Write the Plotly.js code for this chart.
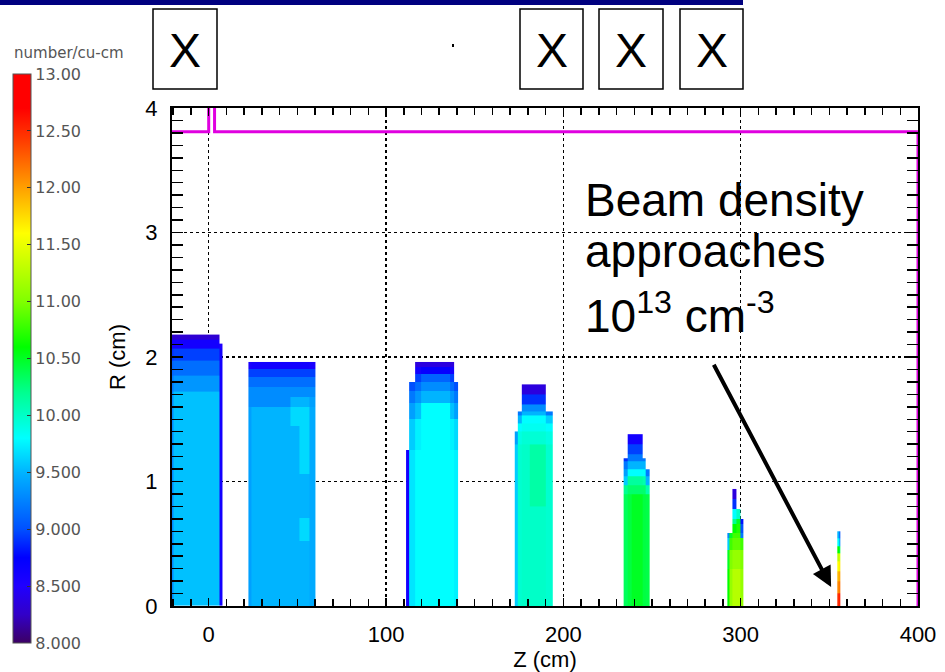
<!DOCTYPE html>
<html>
<head>
<meta charset="utf-8">
<script src="https://cdn.plot.ly/plotly-3.0.1.min.js"></script>
<style>html,body{margin:0;padding:0;background:#fff;}#chart{width:945px;height:672px;}</style>
</head>
<body>
<div id="chart"></div>
<script>
// ---------- DATA (log10 beam density, number/cu-cm) ----------
// Bunch 1
const b1Z = [-21, -19.8, 5.8, 7.6];
const b1R = [0, 1.72, 1.85, 1.97, 2.07, 2.11, 2.14, 2.18];
const b1D = [
  [9.3, 9.55, 8.6],
  [9.2, 9.35, 8.6],
  [9.1, 9.15, 8.6],
  [8.9, 8.95, 8.6],
  [8.6, 8.6, 8.5],
  [8.6, 8.6, null],
  [8.3, 8.3, null]
];
// Bunch 2
const b2Z = [22.4, 24.3, 46, 51, 57, 60.4];
const b2R = [0, 0.52, 0.71, 1.06, 1.45, 1.6, 1.68, 1.76, 1.84, 1.90, 1.96];
const b2D = [
  [9.4, 9.5, 9.5, 9.5, 9.45],
  [9.4, 9.5, 9.5, 9.65, 9.45],
  [9.4, 9.5, 9.5, 9.5, 9.45],
  [9.4, 9.5, 9.5, 9.65, 9.45],
  [9.4, 9.5, 9.65, 9.65, 9.45],
  [9.3, 9.3, 9.5, 9.5, 9.4],
  [9.3, 9.3, 9.3, 9.3, 9.3],
  [9.15, 9.15, 9.15, 9.15, 9.15],
  [8.95, 8.95, 8.95, 8.95, 8.95],
  [8.55, 8.6, 8.6, 8.6, 8.55]
];
// Bunch 3
const b3Z = [111.3, 113.0, 116.5, 120, 136, 138.5, 140.8];
const b3R = [0, 1.25, 1.5, 1.63, 1.73, 1.80, 1.86, 1.92, 1.96];
const b3D = [
  [8.6, 9.7, 9.8, 9.8, 9.8, 9.75],
  [null, 9.6, 9.75, 9.8, 9.75, 9.65],
  [null, 9.4, 9.55, 9.8, 9.55, 9.4],
  [null, 9.2, 9.35, 9.5, 9.35, 9.2],
  [null, 9.0, 9.15, 9.3, 9.15, 9.0],
  [null, null, 8.95, 9.1, 8.95, null],
  [null, null, 8.6, 8.7, 8.6, null],
  [null, null, 8.35, 8.35, 8.35, null]
];
// Bunch 4
const b4Z = [172.6, 174.1, 176.6, 181, 189.8, 194];
const b4R = [0, 0.8, 1.3, 1.4, 1.47, 1.53, 1.56, 1.62, 1.70, 1.78];
const b4D = [
  [9.6, 9.97, 10.0, 10.0, 9.97],
  [9.6, 9.97, 10.0, 10.12, 9.97],
  [9.4, 9.9, 9.95, 9.95, 9.9],
  [null, 9.8, 9.85, 9.85, 9.8],
  [null, 9.5, 9.8, 9.8, 9.6],
  [null, 9.2, 9.5, 9.5, 9.2],
  [null, null, 9.3, 9.3, null],
  [null, null, 8.9, 8.9, null],
  [null, null, 8.35, 8.35, null]
];
// Bunch 5
const b5Z = [234, 236.5, 238.5, 244.6, 246.5, 248.5];
const b5R = [0, 0.9, 0.97, 1.04, 1.10, 1.16, 1.19, 1.22, 1.30, 1.38];
const b5D = [
  [10.35, 10.42, 10.5, 10.42, 10.4],
  [10.2, 10.3, 10.3, 10.3, 10.1],
  [9.6, 10.15, 10.15, 10.1, 9.5],
  [9.4, 9.8, 9.8, 9.8, 9.2],
  [9.2, 9.5, 9.5, 9.5, null],
  [8.9, 9.2, 9.2, 9.2, null],
  [null, 9.2, 9.2, null, null],
  [null, 8.95, 8.95, null, null],
  [null, 8.6, 8.6, null, null]
];
// Bunch 6
const b6Z = [292.5, 293.8, 295.4, 297.3, 299.8, 301.7];
const b6R = [0, 0.3, 0.45, 0.55, 0.59, 0.66, 0.70, 0.78, 0.86, 0.94];
const b6D = [
  [10.6, 11.1, 11.25, 11.25, 11.1],
  [10.5, 11.0, 11.1, 11.1, 11.0],
  [9.6, 10.8, 10.9, 10.9, 10.8],
  [9.3, 10.5, 10.8, 10.8, 9.2],
  [null, null, 10.6, 10.7, 9.0],
  [null, null, 10.2, 10.5, 8.8],
  [null, null, 9.8, 10.0, null],
  [null, null, 8.9, null, null],
  [null, null, 8.35, null, null]
];
// Bunch 7
const b7Z = [354.5, 355.4, 356.3];
const b7R = [0, 0.1, 0.2, 0.28, 0.36, 0.42, 0.48, 0.54, 0.60];
const b7D = [
  [12.5, 12.6],
  [12.1, 12.2],
  [11.9, 12.0],
  [11.6, 11.7],
  [11.3, 11.4],
  [10.6, 10.4],
  [9.8, 9.3],
  [9.5, 9.0]
];
// Wall (magenta boundary)
const wallZ = [-20.7, 0, 0, null, 3.3, 3.3, 400, 400];
const wallR = [3.81, 3.81, 4.0, null, 4.0, 3.81, 3.81, 0];

// Axis / colorbar labels
const xTickVals = [0, 100, 200, 300, 400];
const yTickVals = [0, 1, 2, 3, 4];
const cbTickVals = [8, 8.5, 9, 9.5, 10, 10.5, 11, 11.5, 12, 12.5, 13];
const cbTickText = ['8.000', '8.500', '9.000', '9.500', '10.00', '10.50', '11.00', '11.50', '12.00', '12.50', '13.00'];

// ---------- LAYOUT HELPERS ----------
const L = 172, R = 27, T = 108, B = 66, W = 945, H = 672;
const PW = W - L - R, PH = H - T - B;
const px = v => (v - L) / PW;
const py = v => (H - B - v) / PH;

const colorscale = [
  [0.00, '#3c0064'], [0.05, '#3200c8'], [0.10, '#2000ff'], [0.15, '#0000ff'],
  [0.20, '#0050ff'], [0.30, '#00b4ff'], [0.36, '#00ffff'], [0.44, '#00ff90'],
  [0.52, '#00ff00'], [0.60, '#80ff00'], [0.72, '#ffff00'], [0.80, '#ffa000'],
  [0.88, '#ff4000'], [0.94, '#ff0000'], [1.00, '#ff0000']
];

const bunches = [[b1Z, b1R, b1D], [b2Z, b2R, b2D], [b3Z, b3R, b3D], [b4Z, b4R, b4D], [b5Z, b5R, b5D], [b6Z, b6R, b6D], [b7Z, b7R, b7D]];
const traces = bunches.map(b => ({
  type: 'heatmap', x: b[0], y: b[1], z: b[2], coloraxis: 'coloraxis',
  zsmooth: false, hoverinfo: 'skip'
}));
traces.push({
  type: 'scatter', mode: 'lines', x: wallZ, y: wallR, connectgaps: false,
  line: {color: '#e000e0', width: 3}, hoverinfo: 'skip', showlegend: false
});

const boxXs = [[153, 217], [520, 583], [599, 663], [680, 743]];
const shapes = [
  {type: 'rect', xref: 'paper', yref: 'paper', x0: px(0), x1: px(743), y0: py(0), y1: py(5),
   fillcolor: '#000080', line: {width: 0}}
];
const annotations = [];
boxXs.forEach(b => {
  shapes.push({type: 'rect', xref: 'paper', yref: 'paper', x0: px(b[0]), x1: px(b[1]), y0: py(89), y1: py(9),
    line: {color: '#000', width: 1.5}, fillcolor: 'rgba(0,0,0,0)'});
  annotations.push({xref: 'paper', yref: 'paper', x: px((b[0] + b[1]) / 2), y: py(50), text: 'X',
    showarrow: false, xanchor: 'center', yanchor: 'middle', font: {size: 48, color: '#000'}});
});
shapes.push({type: 'rect', xref: 'paper', yref: 'paper', x0: px(452), x1: px(454), y0: py(47), y1: py(44),
  fillcolor: '#000', line: {width: 0}});

// colorbar title
annotations.push({xref: 'paper', yref: 'paper', x: px(12), y: py(53), xanchor: 'left', yanchor: 'middle',
  text: 'number/cu-cm', showarrow: false, font: {family: 'DejaVu Sans', size: 15, color: '#555'}});

const tf = {family: 'Liberation Sans, Arial', size: 46, color: '#000'};
annotations.push({xref: 'paper', yref: 'paper', x: px(583), y: py(200), xanchor: 'left', yanchor: 'middle',
  text: 'Beam density', showarrow: false, font: tf});
annotations.push({xref: 'paper', yref: 'paper', x: px(583), y: py(251), xanchor: 'left', yanchor: 'middle',
  text: 'approaches', showarrow: false, font: tf});
annotations.push({xref: 'paper', yref: 'paper', x: px(583), y: py(313), xanchor: 'left', yanchor: 'middle',
  text: '10<sup>13</sup> cm<sup>-3</sup>', showarrow: false, font: tf});
annotations.push({x: 351, y: 0.153, ax: 284.4, ay: 1.95, axref: 'x', ayref: 'y', xref: 'x', yref: 'y',
  text: '', showarrow: true, arrowhead: 2, arrowsize: 1, arrowwidth: 4, arrowcolor: '#000'});

const axFont = {family: 'Liberation Sans, Arial', size: 22, color: '#000'};
const layout = {
  width: W, height: H,
  margin: {l: L, r: R, t: T, b: B, pad: 0},
  paper_bgcolor: '#fff', plot_bgcolor: '#fff',
  font: {family: 'Liberation Sans, Arial', color: '#000'},
  showlegend: false,
  xaxis: {
    range: [-20.7, 400], tickvals: xTickVals, ticks: 'inside', ticklen: 8, tickwidth: 1.5, tickcolor: '#000',
    showline: true, linecolor: '#000', linewidth: 2, mirror: 'allticks',
    showgrid: true, gridcolor: '#000', griddash: 'dot', gridwidth: 1.5, zeroline: false,
    minor: {dtick: 10, tick0: 0, ticks: 'inside', ticklen: 7, tickwidth: 1.5, tickcolor: '#000', showgrid: false},
    tickfont: axFont, ticklabelstandoff: 8,
    title: {text: 'Z (cm)', font: axFont, standoff: 4}
  },
  yaxis: {
    range: [0, 4], tickvals: yTickVals, ticks: 'inside', ticklen: 11, tickwidth: 1.5, tickcolor: '#000',
    showline: true, linecolor: '#000', linewidth: 2, mirror: 'allticks',
    showgrid: true, gridcolor: '#000', griddash: 'dot', gridwidth: 1.5, zeroline: false,
    minor: {dtick: 0.1, tick0: 0, ticks: 'inside', ticklen: 11, tickwidth: 1.5, tickcolor: '#000', showgrid: false},
    tickfont: axFont, ticklabelstandoff: 8,
    title: {text: 'R (cm)', font: axFont, standoff: 14}
  },
  coloraxis: {
    cmin: 8, cmax: 13, colorscale: colorscale,
    colorbar: {
      x: px(13), xanchor: 'left', y: py(643), yanchor: 'bottom',
      thickness: 18, thicknessmode: 'pixels', len: 569, lenmode: 'pixels',
      xpad: 0, ypad: 0, outlinewidth: 1, outlinecolor: '#555',
      tickvals: cbTickVals, ticktext: cbTickText, ticks: 'inside', ticklen: 4, tickcolor: '#333',
      tickfont: {family: 'DejaVu Sans', size: 16, color: '#555'}
    }
  },
  shapes: shapes,
  annotations: annotations
};

Plotly.newPlot('chart', traces, layout, {displayModeBar: false, staticPlot: true});
</script>
</body>
</html>
